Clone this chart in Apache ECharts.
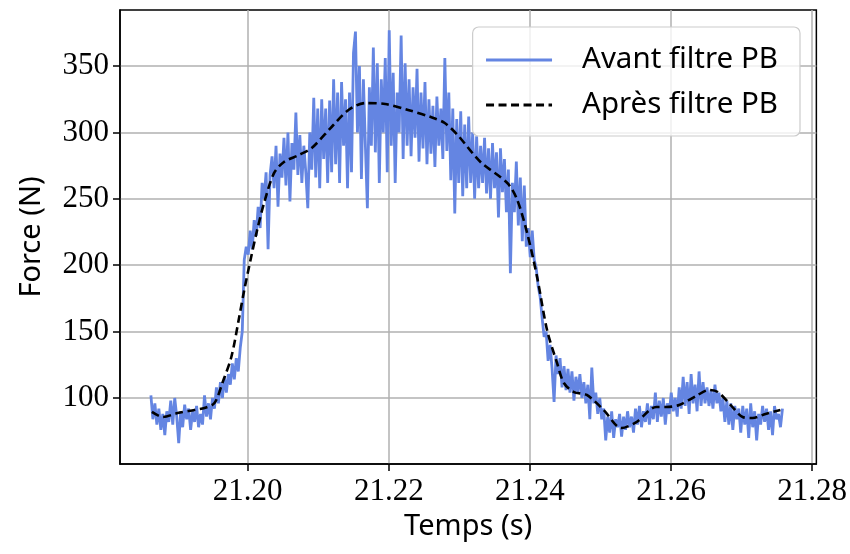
<!DOCTYPE html>
<html>
<head>
<meta charset="utf-8">
<script src="https://cdn.jsdelivr.net/npm/echarts@6/dist/echarts.min.js"></script>
<style>html,body{margin:0;padding:0;background:#fff;}#c{width:850px;height:554px;}</style>
</head>
<body>
<div id="c"></div>
<script>
// Raw signal: sampling start time and sampling step (s)
const rawStart = 21.18628;
const rawStep = 0.0002815;
// Force before low-pass filter (N)
const rawForce = [
  102, 84, 96, 80, 92, 76, 88, 72, 90, 82,
  98, 80, 100, 86, 66, 90, 78, 95, 84, 92,
  76, 90, 82, 94, 78, 88, 80, 102, 86, 96,
  84, 100, 92, 108, 96, 112, 100, 116, 104, 118,
  110, 126, 114, 130, 120, 138, 150, 204, 214, 208,
  226, 212, 234, 222, 244, 228, 262, 250, 270, 212,
  268, 282, 258, 290, 244, 284, 266, 296, 260, 300,
  248, 292, 272, 315, 268, 298, 262, 290, 270, 243,
  300, 272, 326, 266, 318, 258, 325, 280, 318, 262,
  324, 270, 340, 276, 330, 262, 338, 290, 325, 258,
  330, 270, 360, 376, 300, 350, 265, 340, 290, 243,
  334, 290, 364, 285, 352, 262, 340, 300, 356, 270,
  377, 290, 345, 262, 330, 300, 373, 280, 352, 290,
  340, 282, 334, 296, 348, 278, 330, 288, 338, 276,
  325, 284, 320, 274, 327, 290, 318, 280, 356, 286,
  330, 264, 318, 239, 310, 262, 316, 252, 306, 258,
  312, 262, 300, 250, 297, 258, 290, 262, 296, 254,
  288, 250, 292, 258, 285, 236, 288, 255, 280, 240,
  272, 194, 262, 240, 278, 230, 266, 218, 260, 214,
  228, 206, 226, 204, 198, 184, 176, 160, 146, 150,
  128, 140, 122, 97, 132, 118, 130, 108, 124, 106,
  122, 104, 120, 98, 116, 104, 118, 100, 112, 96,
  110, 84, 123, 96, 104, 88, 100, 84, 92, 68,
  86, 74, 90, 70, 84, 78, 88, 71, 86, 76,
  90, 78, 86, 74, 92, 80, 94, 78, 90, 82,
  96, 80, 94, 84, 104, 82, 98, 86, 100, 80,
  96, 88, 104, 90, 100, 86, 108, 92, 116, 94,
  112, 88, 118, 96, 110, 90, 120, 94, 112, 96,
  108, 94, 106, 92, 110, 96, 104, 90, 100, 82,
  98, 80, 96, 76, 94, 84, 92, 74, 94, 80,
  92, 70, 96, 78, 90, 68, 88, 80, 94, 82,
  92, 76, 90, 72, 94, 84, 88, 78, 92
];
// Filtered signal: time (s) and force (N)
const filtTime = [
  21.18642, 21.18797, 21.19008, 21.19247, 21.19388, 21.19529, 21.19641, 21.19768,
  21.19880, 21.19951, 21.20049, 21.20134, 21.20232, 21.20373, 21.20514, 21.20725,
  21.20908, 21.21189, 21.21428, 21.21668, 21.21949, 21.22273, 21.22596, 21.22793,
  21.22976, 21.23300, 21.23680, 21.23821, 21.23961, 21.24102, 21.24243, 21.24384,
  21.24482, 21.24623, 21.24806, 21.25045, 21.25298, 21.25509, 21.25791, 21.25932,
  21.26115, 21.26354, 21.26537, 21.26663, 21.26846, 21.27015, 21.27156, 21.27339,
  21.27550
];
const filtForce = [
  89.5, 85.7, 88.7, 91.0, 92.5, 96.2, 111.3, 130.9,
  161.0, 181.3, 206.2, 226.5, 246.8, 269.4, 277.7, 283.0,
  288.3, 304.1, 316.9, 322.1, 321.4, 316.9, 311.6, 307.1,
  298.0, 277.7, 261.9, 249.1, 224.2, 191.1, 151.2, 126.4,
  111.3, 104.5, 102.3, 91.0, 77.4, 81.9, 93.2, 93.2,
  94.7, 101.5, 106.0, 104.5, 94.7, 85.7, 84.9, 88.0,
  91.0
];
// Axis ticks
const xTicks = [21.20, 21.22, 21.24, 21.26, 21.28];
const yTicks = [100, 150, 200, 250, 300, 350];
const xRange = [21.1819, 21.2806];
const yRange = [50.3, 392.2];

const rawData = rawForce.map((v, i) => [rawStart + i * rawStep, v]);
const filtData = filtTime.map((t, i) => [t, filtForce[i]]);

const serif = '"Liberation Serif", "DejaVu Serif", serif';
const sans = '"Noto Sans", "DejaVu Sans", sans-serif';

const chart = echarts.init(document.getElementById('c'), null, {renderer: 'canvas'});
chart.setOption({
  animation: false,
  backgroundColor: '#fff',
  grid: {left: 120, right: 30, top: 10, bottom: 90, show: true, borderColor: '#000', borderWidth: 1.5, backgroundColor: 'transparent'},
  xAxis: {
    type: 'value', min: xRange[0], max: xRange[1],
    name: 'Temps (s)', nameLocation: 'middle', nameGap: 46,
    nameTextStyle: {fontFamily: sans, fontSize: 29, color: '#000'},
    axisLine: {show: true, lineStyle: {color: '#000', width: 1.5}},
    axisTick: {show: true, length: 7, lineStyle: {color: '#000', width: 1.5}, customValues: xTicks},
    axisLabel: {show: true, margin: 12, fontFamily: serif, fontSize: 31, color: '#000', customValues: xTicks,
      formatter: v => v.toFixed(2)},
    splitLine: {show: true, lineStyle: {color: '#b0b0b0', width: 1.5}}
  },
  yAxis: {
    type: 'value', min: yRange[0], max: yRange[1],
    name: 'Force (N)', nameLocation: 'middle', nameGap: 74,
    nameTextStyle: {fontFamily: sans, fontSize: 29, color: '#000'},
    axisLine: {show: true, lineStyle: {color: '#000', width: 1.5}},
    axisTick: {show: true, length: 7, lineStyle: {color: '#000', width: 1.5}, customValues: yTicks},
    axisLabel: {show: true, margin: 11, fontFamily: serif, fontSize: 31, color: '#000', customValues: yTicks,
      formatter: v => String(v)},
    splitLine: {show: true, lineStyle: {color: '#b0b0b0', width: 1.5}}
  },
  legend: {
    orient: 'vertical', right: 50, top: 27,
    data: ['Avant filtre PB', 'Après filtre PB'],
    itemWidth: 66, itemHeight: 14, itemGap: 15,
    padding: [18, 22, 16, 12],
    itemStyle: {opacity: 0},
    lineStyle: {width: 2.8},
    backgroundColor: 'rgba(255,255,255,0.8)', borderColor: '#cccccc', borderWidth: 1.2, borderRadius: 6,
    textStyle: {fontFamily: sans, fontSize: 29.5, color: '#000', padding: [0, 0, 0, 25]}
  },
  series: [
    {
      name: 'Avant filtre PB', type: 'line', data: rawData, showSymbol: false, symbol: 'none',
      lineStyle: {color: '#6485e2', width: 2.8}, itemStyle: {color: '#6485e2'}, z: 2
    },
    {
      name: 'Après filtre PB', type: 'line', data: filtData, showSymbol: false, symbol: 'none', smooth: 0.3,
      lineStyle: {color: '#000', width: 2.6, type: [8, 4.5]}, itemStyle: {color: '#000'}, z: 3
    }
  ]
});
</script>
</body>
</html>
